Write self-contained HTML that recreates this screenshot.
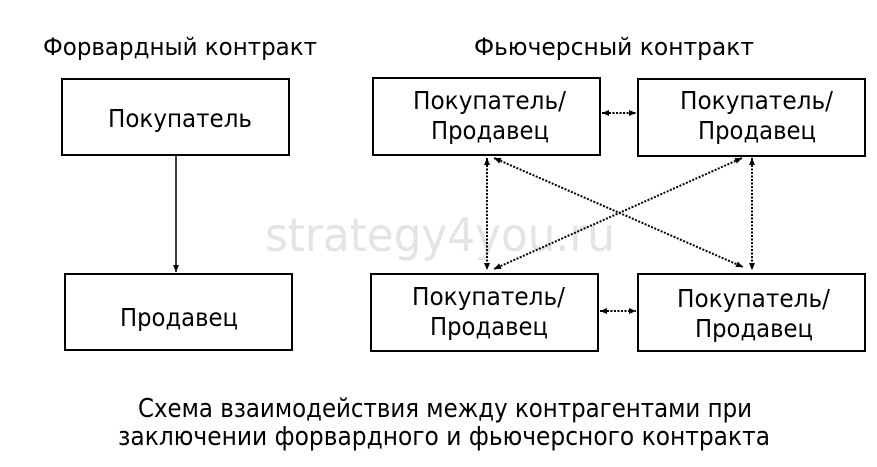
<!DOCTYPE html>
<html><head><meta charset="utf-8"><style>
html,body{margin:0;padding:0;background:#fff;}
svg{display:block;}
text{font-family:"DejaVu Sans","Liberation Sans",sans-serif;fill:#000;}
</style></head><body>
<svg width="877" height="467" viewBox="0 0 877 467" xmlns="http://www.w3.org/2000/svg">
<defs>
<marker id="a" markerWidth="8" markerHeight="8" refX="7" refY="4" orient="auto" markerUnits="userSpaceOnUse">
<path d="M0,1 L7,4 L0,7 Z" fill="#000"/></marker>
<marker id="s" markerWidth="8" markerHeight="8" refX="1" refY="4" orient="auto" markerUnits="userSpaceOnUse">
<path d="M8,1 L1,4 L8,7 Z" fill="#000"/></marker>
</defs>
<text x="440" y="251" font-size="46" text-anchor="middle" style="fill:#e4e4e4" textLength="350" lengthAdjust="spacingAndGlyphs">strategy4you.ru</text>

<text x="43" y="55" font-size="24" textLength="274" lengthAdjust="spacingAndGlyphs">Форвардный контракт</text>
<text x="474" y="55" font-size="24" textLength="280" lengthAdjust="spacingAndGlyphs">Фьючерсный контракт</text>

<g fill="none" stroke="#000" stroke-width="2">
<rect x="62" y="79" width="227" height="76"/>
<rect x="65" y="274" width="227" height="76"/>
<rect x="373" y="78" width="227" height="77"/>
<rect x="638" y="79" width="227" height="77"/>
<rect x="371" y="274" width="227" height="77"/>
<rect x="638" y="274" width="227" height="77"/>
</g>
<line x1="176" y1="156" x2="176" y2="272" stroke="#000" stroke-width="1.5" marker-end="url(#a)"/>
<g stroke="#000" stroke-width="2" stroke-dasharray="2,1.5" fill="none">
<line x1="602" y1="113" x2="636" y2="113" marker-start="url(#s)" marker-end="url(#a)"/>
<line x1="600" y1="311" x2="636" y2="311" marker-start="url(#s)" marker-end="url(#a)"/>
<line x1="487" y1="158" x2="487" y2="270" marker-start="url(#s)" marker-end="url(#a)"/>
<line x1="752" y1="158" x2="752" y2="270" marker-start="url(#s)" marker-end="url(#a)"/>
<line x1="494" y1="158" x2="743" y2="267" marker-start="url(#s)" marker-end="url(#a)"/>
<line x1="742" y1="158" x2="494" y2="269" marker-start="url(#s)" marker-end="url(#a)"/>
</g>

<g font-size="25">
<text x="108" y="127" textLength="144" lengthAdjust="spacingAndGlyphs">Покупатель</text>
<text x="120" y="326" textLength="118" lengthAdjust="spacingAndGlyphs">Продавец</text>
<text x="413" y="109" textLength="153" lengthAdjust="spacingAndGlyphs">Покупатель/</text>
<text x="431" y="139" textLength="118" lengthAdjust="spacingAndGlyphs">Продавец</text>
<text x="680" y="109" textLength="153" lengthAdjust="spacingAndGlyphs">Покупатель/</text>
<text x="698" y="139" textLength="118" lengthAdjust="spacingAndGlyphs">Продавец</text>
<text x="412" y="305" textLength="153" lengthAdjust="spacingAndGlyphs">Покупатель/</text>
<text x="430" y="335" textLength="118" lengthAdjust="spacingAndGlyphs">Продавец</text>
<text x="677" y="307" textLength="153" lengthAdjust="spacingAndGlyphs">Покупатель/</text>
<text x="695" y="337" textLength="118" lengthAdjust="spacingAndGlyphs">Продавец</text>
</g>

<text x="138" y="417" font-size="26" textLength="614" lengthAdjust="spacingAndGlyphs">Схема взаимодействия между контрагентами при</text>
<text x="118" y="445" font-size="26" textLength="652" lengthAdjust="spacingAndGlyphs">заключении форвардного и фьючерсного контракта</text>
</svg>
</body></html>
